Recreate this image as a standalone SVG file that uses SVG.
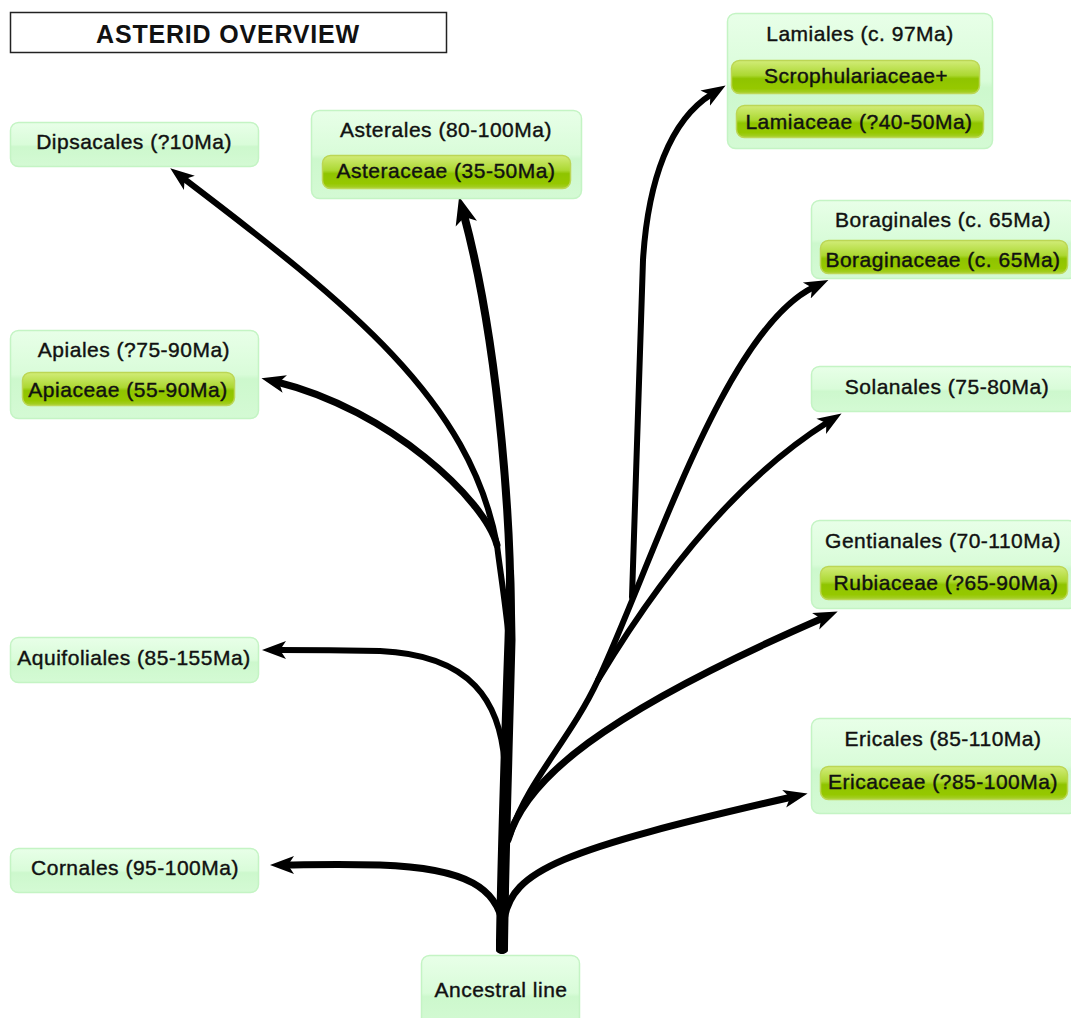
<svg xmlns="http://www.w3.org/2000/svg" width="1071" height="1018" viewBox="0 0 1071 1018">
<defs>
<linearGradient id="boxg" x1="0" y1="0" x2="0" y2="1">
<stop offset="0" stop-color="#e8ffe8"/>
<stop offset="0.5" stop-color="#d9fcd9"/>
<stop offset="0.55" stop-color="#cdf8cd"/>
<stop offset="1" stop-color="#d4fad4"/>
</linearGradient>
<linearGradient id="pillg" x1="0" y1="0" x2="0" y2="1">
<stop offset="0" stop-color="#d2ec78"/>
<stop offset="0.45" stop-color="#acd832"/>
<stop offset="0.55" stop-color="#8fc400"/>
<stop offset="0.85" stop-color="#96c800"/>
<stop offset="1" stop-color="#a8d030"/>
</linearGradient>
<marker id="arr" markerUnits="userSpaceOnUse" markerWidth="24" markerHeight="20" viewBox="0 0 24 20" refX="8" refY="10" orient="auto">
<path d="M0,1 L24,10 L0,19 L6,10 z" fill="#000"/>
</marker>
<marker id="arrb" markerUnits="userSpaceOnUse" markerWidth="28" markerHeight="24" viewBox="0 0 28 24" refX="9" refY="12" orient="auto">
<path d="M0,1 L28,12 L0,23 L7,12 z" fill="#000"/>
</marker>
</defs>
<style>
.box{fill:url(#boxg);stroke:#c4f4c4;stroke-width:1.5}
.pill{fill:url(#pillg);stroke:#bcd655;stroke-width:1.5}
.t,.p{font-family:"Liberation Sans",Arial,sans-serif;font-size:21px;letter-spacing:0.5px;fill:#111;stroke:#111;stroke-width:0.4px;text-anchor:middle}
.c{fill:none;stroke:#000;stroke-linecap:round;stroke-linejoin:round}
</style>
<rect width="1071" height="1018" fill="#fff"/>

<g id="title">
<rect x="10.5" y="12.5" width="436" height="40" fill="#fff" stroke="#222" stroke-width="1.5"/>
<text x="228" y="42.5" font-family="Liberation Sans,Arial,sans-serif" font-size="25" font-weight="bold" letter-spacing="0.8" text-anchor="middle" fill="#111">ASTERID OVERVIEW</text>
</g>

<g id="connectors">
<path d="M496,950 C497,870 501,740 504.5,640 C505.5,610 506,590 506,570 L514,570 C514.5,590 515,610 515.5,640 C513,740 509,870 508,950 C508,955 496,955 496,950 Z" fill="#000"/>
<path class="c" d="M502,950 C503,870 507,740 510,640 C513,540 500,350 464,215" stroke-width="8" marker-end="url(#arrb)"/>
<path class="c" d="M509,640 C505,600 500,570 497,545 C470,400 350,305 183,178" stroke-width="6" marker-end="url(#arr)"/>
<path class="c" d="M497,545 C485,500 390,410 277,382" stroke-width="7" marker-end="url(#arr)"/>
<path class="c" d="M505,770 C502,700 470,655 380,651 C330,650 300,650 278,650" stroke-width="6" marker-end="url(#arr)"/>
<path class="c" d="M503,925 C497,890 470,868 380,865 C330,864 305,865 286,865" stroke-width="7" marker-end="url(#arr)"/>
<path class="c" d="M504,920 C512,870 560,850 792,797" stroke-width="7" marker-end="url(#arr)"/>
<path class="c" d="M508,840 C525,780 600,715 823,618" stroke-width="7" marker-end="url(#arr)"/>
<path class="c" d="M510,835 C528,780 570,740 598,680 C654,560 725,330 814,287" stroke-width="6" marker-end="url(#arr)"/>
<path class="c" d="M598,680 C640,610 720,490 828,422" stroke-width="6" marker-end="url(#arr)"/>
<path class="c" d="M632,597 L643,260 C648,180 670,120 712,94" stroke-width="6" marker-end="url(#arr)"/>
</g>

<g id="dipsacales">
<rect class="box" x="10.5" y="122.5" width="248" height="44" rx="8"/>
<text class="t" x="134" y="149">Dipsacales (?10Ma)</text>
</g>

<g id="asterales">
<rect class="box" x="311.5" y="110.5" width="270" height="88" rx="8"/>
<text class="t" x="446" y="137">Asterales (80-100Ma)</text>
<rect class="pill" x="322.5" y="155.5" width="248" height="33" rx="8"/>
<text class="p" x="446" y="178">Asteraceae (35-50Ma)</text>
</g>

<g id="lamiales">
<rect class="box" x="727.5" y="13.5" width="265" height="135" rx="8"/>
<text class="t" x="860" y="41">Lamiales (c. 97Ma)</text>
<rect class="pill" x="731.5" y="60.5" width="248" height="33" rx="8"/>
<text class="p" x="856" y="83">Scrophulariaceae+</text>
<rect class="pill" x="736.5" y="105.5" width="247" height="32" rx="8"/>
<text class="p" x="859" y="129">Lamiaceae (?40-50Ma)</text>
</g>

<g id="boraginales">
<rect class="box" x="811.5" y="200.5" width="265" height="78" rx="8"/>
<text class="t" x="943" y="227">Boraginales (c. 65Ma)</text>
<rect class="pill" x="820.5" y="240.5" width="247" height="33" rx="8"/>
<text class="p" x="943" y="267">Boraginaceae (c. 65Ma)</text>
</g>

<g id="solanales">
<rect class="box" x="811.5" y="366.5" width="265" height="45" rx="8"/>
<text class="t" x="947" y="394">Solanales (75-80Ma)</text>
</g>

<g id="gentianales">
<rect class="box" x="811.5" y="520.5" width="265" height="88" rx="8"/>
<text class="t" x="943" y="547.5">Gentianales (70-110Ma)</text>
<rect class="pill" x="820.5" y="566.5" width="247" height="33" rx="8"/>
<text class="p" x="946" y="590">Rubiaceae (?65-90Ma)</text>
</g>

<g id="ericales">
<rect class="box" x="811.5" y="718.5" width="265" height="95" rx="8"/>
<text class="t" x="943" y="746">Ericales (85-110Ma)</text>
<rect class="pill" x="820.5" y="766.5" width="247" height="33" rx="8"/>
<text class="p" x="943" y="789">Ericaceae (?85-100Ma)</text>
</g>

<g id="apiales">
<rect class="box" x="10.5" y="330.5" width="248" height="88" rx="8"/>
<text class="t" x="134" y="357">Apiales (?75-90Ma)</text>
<rect class="pill" x="22.5" y="372.5" width="212" height="33" rx="8"/>
<text class="p" x="128" y="397">Apiaceae (55-90Ma)</text>
</g>

<g id="aquifoliales">
<rect class="box" x="10.5" y="637.5" width="248" height="45" rx="8"/>
<text class="t" x="134" y="665">Aquifoliales (85-155Ma)</text>
</g>

<g id="cornales">
<rect class="box" x="10.5" y="848.5" width="248" height="44" rx="8"/>
<text class="t" x="135" y="875">Cornales (95-100Ma)</text>
</g>

<g id="ancestral">
<rect class="box" x="421.5" y="955.5" width="158" height="75" rx="8"/>
<text class="t" x="501" y="997">Ancestral line</text>
</g>
</svg>
